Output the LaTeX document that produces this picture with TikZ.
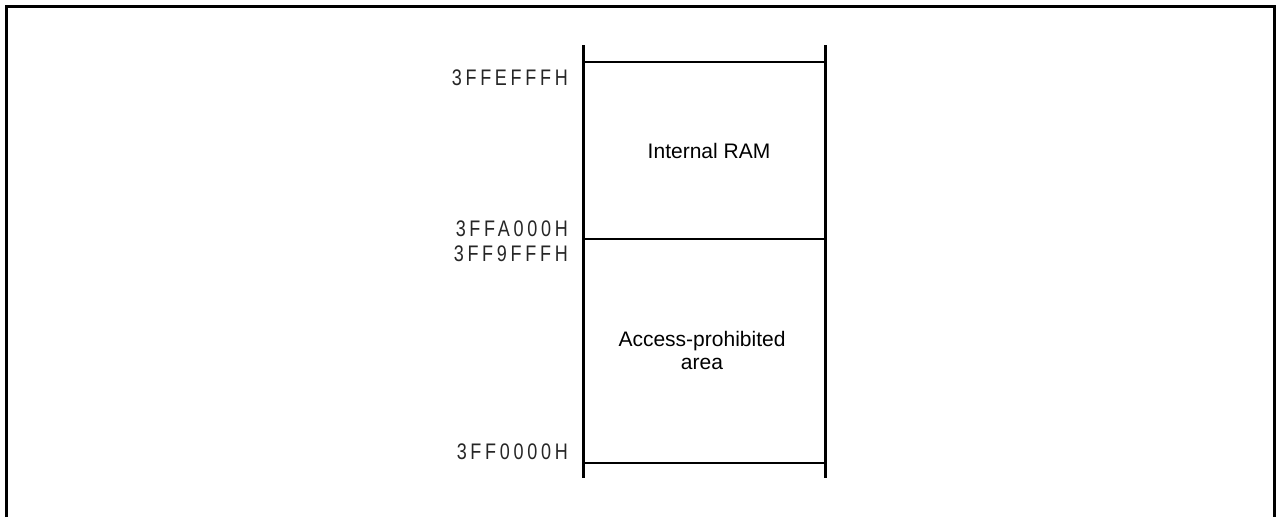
\documentclass[tikz,border=0pt]{standalone}
\usepackage{fontspec}
\setmainfont{Liberation Sans}
\usetikzlibrary{positioning}

\begin{document}
\begin{tikzpicture}[x=1pt, y=-1pt,
  font=\fontsize{21}{23}\selectfont,
  addr/.style={anchor=east, inner sep=0pt, text=black!85, font=\fontsize{22.5}{24}\selectfont\addfontfeature{FakeStretch=0.8,LetterSpace=16.5}},
  area/.style={align=center, inner sep=0pt},
  wall/.style={line width=3pt},
  bound/.style={line width=1.3pt}]
  \useasboundingbox (0,0) rectangle (1276,517);
  % outer frame
  \draw[line width=3pt] (6,517) -- (6,6) -- (1274,6) -- (1274,517);
  % memory block
  \coordinate (tl) at (583,45);
  \coordinate (bl) at (583,478);
  \coordinate (tr) at (825,45);
  \coordinate (br) at (825,478);
  \draw[wall] (tl) -- (bl);
  \draw[wall] (tr) -- (br);
  \draw[bound] (583,62) -- (825,62);
  \draw[bound] (583,239) -- (825,239);
  \draw[bound] (583,463) -- (825,463);
  % addresses
  \node[addr] (a1) at (568,78) {3FFEFFFH};
  \node[addr] (a2) at (568,229) {3FFA000H};
  \node[addr] (a3) at (568,254) {3FF9FFFH};
  \node[addr] (a4) at (568,452) {3FF0000H};
  % areas
  \node[area] (ram) at (709,151) {Internal RAM};
  \node[area] (prohib) at (702,350) {Access-prohibited\\area};
\end{tikzpicture}
\end{document}
